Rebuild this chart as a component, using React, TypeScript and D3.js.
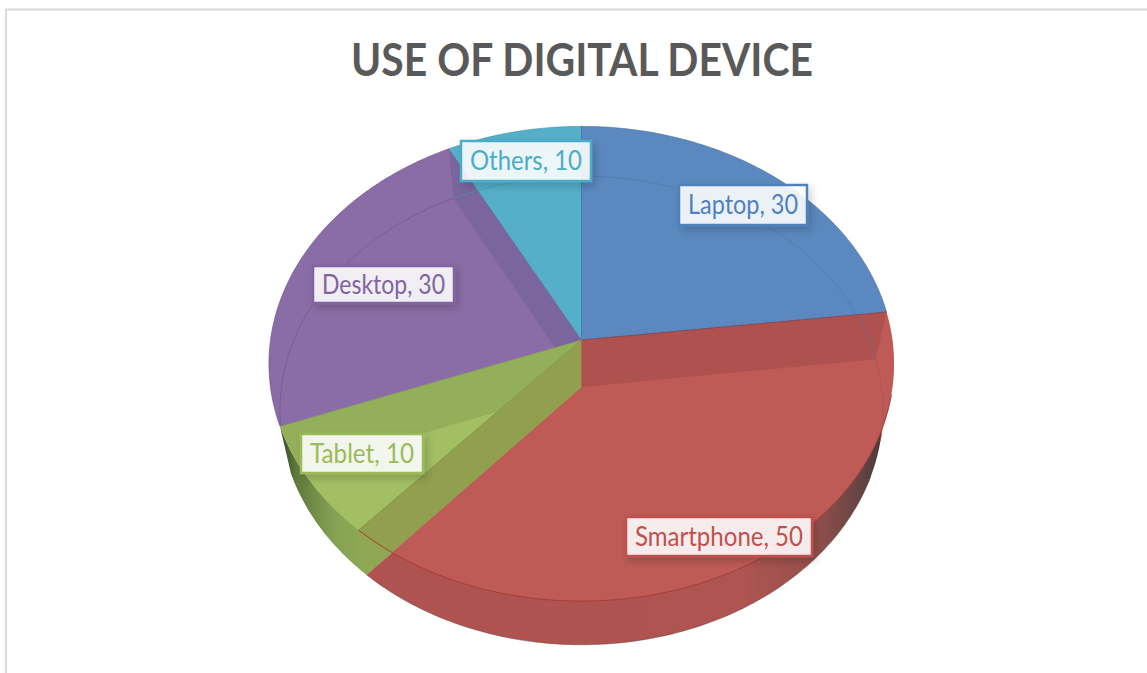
import React from "react";
import * as d3 from "d3";

const categories = ["Laptop", "Smartphone", "Tablet", "Desktop", "Others"];
const values = [30, 50, 10, 30, 10];
const titleText = "USE OF DIGITAL DEVICE";

const faceColors = ["#5B89BF", "#BE5B56", "#A2BF64", "#8A6DA6", "#56AFC9"];
const labelColors = ["#4F81BD", "#C0504D", "#9BBB59", "#8064A2", "#4BACC6"];
// label boxes: x0, y0, x1, y1, in category order
const labelBoxes = [
  [679, 185, 807, 225],
  [626, 517, 812, 556],
  [301, 434, 423, 473],
  [313, 266, 454, 303],
  [461, 141, 591, 181],
];

type Rim = { cx: number; cy: number; R: number; S: number };
const upper: Rim = { cx: 581.5, cy: 340, R: 311, S: 235 };
const lower: Rim = { cx: 581.5, cy: 387, R: 300, S: 232 };
const tilt = 0.1;

// Perspective projection of a point on a horizontal disc rim.
const project = (rim: Rim, t: number, r = 1): [number, number] => {
  const x = Math.sin(t) * r;
  const v = -Math.cos(t) * r;
  const den = 1 - tilt * v;
  return [rim.cx + (rim.R * x) / den, rim.cy + (rim.S * v) / den];
};

const line = d3.line<[number, number]>();

const arcPoints = (rim: Rim, a0: number, a1: number): [number, number][] => {
  const n = Math.max(2, Math.ceil(Math.abs(a1 - a0) / 0.02));
  return d3.range(n + 1).map((i) => project(rim, a0 + ((a1 - a0) * i) / n));
};

const sector = (rim: Rim, a0: number, a1: number) =>
  line([[rim.cx, rim.cy], ...arcPoints(rim, a0, a1)]) + "Z";

const arcLine = (rim: Rim, a0: number, a1: number) => line(arcPoints(rim, a0, a1)) as string;

// Band between the two rims over one angular range.
const band = (a0: number, a1: number) =>
  line([...arcPoints(upper, a0, a1), ...arcPoints(lower, a1, a0)]) + "Z";

// Side wall seen along a slice edge at angle t.
const wall = (t: number) =>
  line([
    [upper.cx, upper.cy],
    [lower.cx, lower.cy],
    project(lower, t),
    project(upper, t),
  ]) + "Z";

const slices = d3
  .pie<number>()
  .sort(null)
  .startAngle(0)
  .endAngle(2 * Math.PI)(values);

export default function App() {
  const [laptop, phone, tablet, desktop, others] = slices;
  const disc = sector(upper, 0, 2 * Math.PI);
  return (
    <svg
      width={1147}
      height={673}
      style={{ position: "absolute", left: 0, top: 0, display: "block", background: "#fff" }}
      fontFamily="Lato, 'Open Sans', sans-serif"
    >
      <defs>
        <linearGradient id="phoneWall" gradientUnits="userSpaceOnUse" x1={367} x2={892} y1={0} y2={0}>
          <stop offset="0" stopColor="#AF5351" />
          <stop offset="0.72" stopColor="#AE5451" />
          <stop offset="0.85" stopColor="#96504D" />
          <stop offset="0.94" stopColor="#644443" />
          <stop offset="1" stopColor="#3E3434" />
        </linearGradient>
        <linearGradient id="tabletWall" gradientUnits="userSpaceOnUse" x1={278} x2={368} y1={0} y2={0}>
          <stop offset="0" stopColor="#2F3A2A" />
          <stop offset="0.2" stopColor="#5F7A3C" />
          <stop offset="0.6" stopColor="#84A052" />
          <stop offset="1" stopColor="#8FAB58" />
        </linearGradient>
        <clipPath id="tabletFace">
          <path d={sector(upper, tablet.startAngle, tablet.endAngle)} />
        </clipPath>
        <clipPath id="desktopFace">
          <path d={sector(upper, desktop.startAngle, desktop.endAngle)} />
        </clipPath>
        <clipPath id="upperDisc">
          <path d={disc} />
        </clipPath>
        <filter id="boxShadow" x="-20%" y="-30%" width="140%" height="170%">
          <feDropShadow dx={3} dy={4} stdDeviation={4.5} floodColor="#000" floodOpacity={0.2} />
        </filter>
      </defs>

      {/* chart frame */}
      <path d="M6 673V9.5H1147" fill="none" stroke="#D9D9D9" strokeWidth={2} />

      <text
        x={582}
        y={76}
        textAnchor="middle"
        fontSize={45}
        fontWeight={700}
        fill="#595959"
        textLength={462}
        lengthAdjust="spacingAndGlyphs"
      >
        {titleText}
      </text>

      {/* lower disc: the outer walls that show beyond the upper rim */}
      <path d={sector(lower, phone.startAngle, phone.endAngle)} fill="url(#phoneWall)" />
      <path d={sector(lower, tablet.startAngle, tablet.endAngle)} fill="url(#tabletWall)" />
      <path d={band(tablet.startAngle, tablet.endAngle)} fill="url(#tabletWall)" />
      <path d={arcLine(lower, phone.startAngle + 0.5, tablet.startAngle)} fill="none" stroke="#5A3A3A" strokeOpacity={0.55} strokeWidth={0.8} />

      {/* upper disc faces */}
      {slices.map((s, i) => (
        <path key={categories[i]} d={sector(upper, s.startAngle, s.endAngle)} fill={faceColors[i]} />
      ))}

      {/* inner walls along the slice edges */}
      <path d={wall(desktop.endAngle)} fill="#7B659F" clipPath="url(#desktopFace)" />
      <path d={wall(tablet.endAngle)} fill="#94AF5A" clipPath="url(#tabletFace)" />
      <path d={wall(phone.endAngle)} fill="#8FA653" />
      <path d={wall(phone.endAngle)} fill="#929F4E" clipPath="url(#upperDisc)" />
      <path d={wall(laptop.endAngle)} fill="#AF514F" />

      {/* rim of the lower disc, seen through the faces */}
      <path d={arcLine(lower, 0, laptop.endAngle)} fill="none" stroke="#4A74A8" strokeOpacity={0.7} strokeWidth={0.8} />
      <path d={arcLine(lower, desktop.startAngle, desktop.endAngle)} fill="none" stroke="#6F5590" strokeOpacity={0.8} strokeWidth={0.8} clipPath="url(#desktopFace)" />
      <path d={arcLine(lower, others.startAngle, others.endAngle)} fill="none" stroke="#4798B0" strokeOpacity={0.8} strokeWidth={0.8} />
      <path d={arcLine(lower, laptop.endAngle, laptop.endAngle + 0.35)} fill="none" stroke="#A84E4A" strokeOpacity={0.8} strokeWidth={0.8} />

      {/* rim of the upper disc */}
      <path d={arcLine(upper, phone.startAngle + 0.35, phone.endAngle)} fill="none" stroke="#A63F3A" strokeWidth={1} />
      <path d={arcLine(upper, laptop.startAngle, laptop.endAngle)} fill="none" stroke="#3F6596" strokeOpacity={0.7} strokeWidth={0.8} />
      <path d={arcLine(upper, desktop.startAngle, desktop.endAngle)} fill="none" stroke="#5F4A80" strokeOpacity={0.7} strokeWidth={0.8} />
      <path d={arcLine(upper, others.startAngle, others.endAngle)} fill="none" stroke="#3F8AA0" strokeOpacity={0.7} strokeWidth={0.8} />

      {/* slice edges */}
      <path d={line([[upper.cx, upper.cy], project(upper, laptop.endAngle)]) as string} stroke="#7D4A5E" strokeWidth={1} />
      <path d={line([[upper.cx, upper.cy], project(upper, 0)]) as string} stroke="#3F83A6" strokeWidth={1} />
      <path d={line([[upper.cx, upper.cy], project(upper, desktop.endAngle)]) as string} stroke="#4F6E9A" strokeOpacity={0.8} strokeWidth={0.8} />
      <path d={line([[upper.cx, upper.cy], project(upper, desktop.startAngle)]) as string} stroke="#7E8E64" strokeWidth={0.8} />
      <path d={line([[upper.cx, upper.cy], project(upper, phone.endAngle)]) as string} stroke="#7F9A49" strokeWidth={0.8} />

      {/* data labels */}
      {categories.map((name, i) => {
        const [x0, y0, x1, y1] = labelBoxes[i];
        return (
          <g key={name}>
            <rect
              x={x0}
              y={y0}
              width={x1 - x0}
              height={y1 - y0}
              fill="#fff"
              fillOpacity={0.88}
              stroke={labelColors[i]}
              strokeWidth={2.5}
              filter="url(#boxShadow)"
            />
            <text
              x={(x0 + x1) / 2}
              y={(y0 + y1) / 2 + 9}
              textAnchor="middle"
              fontSize={26}
              fill={labelColors[i]}
              textLength={x1 - x0 - 18}
              lengthAdjust="spacingAndGlyphs"
            >
              {`${name}, ${values[i]}`}
            </text>
          </g>
        );
      })}
    </svg>
  );
}
